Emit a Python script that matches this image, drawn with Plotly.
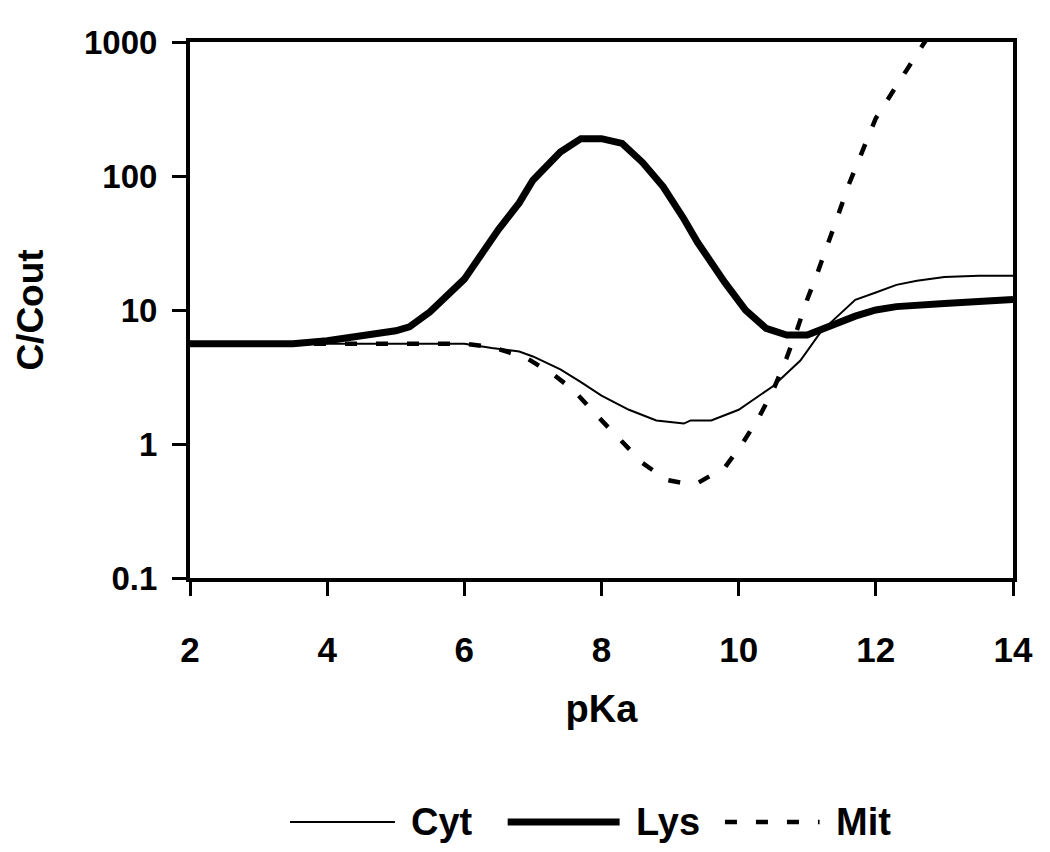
import plotly.graph_objects as go

# ---------------- data ----------------
cyt_pka = [2, 3, 4, 5, 6, 6.4, 6.8, 7.0, 7.4, 7.7, 8.0, 8.4, 8.8, 9.2, 9.3, 9.6,
           10.0, 10.5, 10.9, 11.2, 11.5, 11.7, 12.0, 12.3, 12.6, 13.0, 13.5, 14]
cyt_val = [5.6, 5.6, 5.6, 5.6, 5.6, 5.2, 4.9, 4.5, 3.6, 2.9, 2.3, 1.8, 1.5, 1.42, 1.5, 1.5,
           1.8, 2.7, 4.2, 6.9, 9.5, 11.9, 13.5, 15.4, 16.5, 17.6, 18, 18]

lys_pka = [2, 3, 3.5, 4, 4.5, 5.0, 5.2, 5.5, 6.0, 6.5, 6.8, 7.0, 7.4, 7.7, 8.0, 8.3,
           8.6, 8.9, 9.2, 9.4, 9.8, 10.1, 10.4, 10.7, 11.0, 11.3, 11.7, 12.0, 12.3, 13.0, 14]
lys_val = [5.6, 5.6, 5.6, 5.9, 6.4, 7.0, 7.5, 9.7, 17, 40, 63, 93, 151, 190, 190, 175,
           126, 83, 48, 32, 16, 10, 7.3, 6.5, 6.5, 7.5, 9.0, 10.0, 10.6, 11.2, 12]

mit_pka = [2, 3, 4, 5, 6, 6.4, 6.9, 7.3, 7.6, 7.9, 8.3, 8.6, 8.95, 9.2, 9.4, 9.8,
           10.05, 10.3, 10.5, 10.7, 10.85, 11.0, 11.15, 11.3, 11.45, 11.6, 11.8, 12.0,
           12.3, 12.5, 12.75]
mit_val = [5.6, 5.6, 5.6, 5.6, 5.6, 5.3, 4.4, 3.3, 2.5, 1.7, 1.05, 0.72, 0.54, 0.51, 0.51, 0.67,
           1.0, 1.6, 2.5, 4.4, 7.1, 12, 19, 32, 51, 85, 150, 270,
           470, 680, 1070]

y_tickvals = [0.1, 1, 10, 100, 1000]
y_ticktext = ["0.1", "1", "10", "100", "1000"]
x_tickvals = [2, 4, 6, 8, 10, 12, 14]
legend_names = ["Cyt", "Lys", "Mit"]

FONT = "Liberation Sans, Arial, sans-serif"

fig = go.Figure()
fig.add_trace(go.Scatter(x=cyt_pka, y=cyt_val, mode="lines", name=legend_names[0],
                         line=dict(color="black", width=2)))
fig.add_trace(go.Scatter(x=lys_pka, y=lys_val, mode="lines", name=legend_names[1],
                         line=dict(color="black", width=7)))
fig.add_trace(go.Scatter(x=mit_pka, y=mit_val, mode="lines", name=legend_names[2],
                         line=dict(color="black", width=4.5, dash="12px,19px")))

# page has an 8px body margin: compensate so the plot area sits at x 190-1013, y 42-578
fig.update_layout(
    width=1050, height=852,
    margin=dict(l=182, r=45, t=34, b=282),
    paper_bgcolor="white", plot_bgcolor="white",
    showlegend=False,
    font=dict(family=FONT, color="black", weight="bold"),
)

fig.update_xaxes(
    range=[2, 14], tickvals=x_tickvals, automargin=False,
    showgrid=False, zeroline=False,
    showline=True, linecolor="black", linewidth=4, mirror=True,
    ticks="outside", ticklen=14, tickwidth=3, tickcolor="black",
    tickfont=dict(family=FONT, size=35, weight="bold"),
    ticklabelstandoff=24,
    title=dict(text="pKa", font=dict(family=FONT, size=38, weight="bold"), standoff=28),
)
fig.update_yaxes(
    type="log", range=[-1, 3], tickvals=y_tickvals, ticktext=y_ticktext, automargin=False,
    showgrid=False, zeroline=False,
    showline=True, linecolor="black", linewidth=4, mirror=True,
    ticks="outside", ticklen=14, tickwidth=3, tickcolor="black",
    tickfont=dict(family=FONT, size=33, weight="bold"),
    ticklabelstandoff=8,
    title=dict(text="C/Cout", font=dict(family=FONT, size=37, weight="bold"), standoff=30),
)

# ---------------- manual legend below the chart ----------------
leg_y = -0.455
items = [
    (legend_names[0], 0.1215, 0.249, dict(color="black", width=2)),
    (legend_names[1], 0.386, 0.522, dict(color="black", width=7)),
    (legend_names[2], 0.650, 0.765, dict(color="black", width=4.5, dash="12px,19px")),
]
for name, x0, x1, ln in items:
    fig.add_shape(type="line", xref="paper", yref="paper", x0=x0, x1=x1,
                  y0=leg_y, y1=leg_y, line=ln)
    fig.add_annotation(xref="paper", yref="paper", x=x1 + 0.017, y=leg_y,
                       xanchor="left", yanchor="middle", showarrow=False,
                       text=name, font=dict(family=FONT, size=38, weight="bold", color="black"))

fig.write_html("out.html")
